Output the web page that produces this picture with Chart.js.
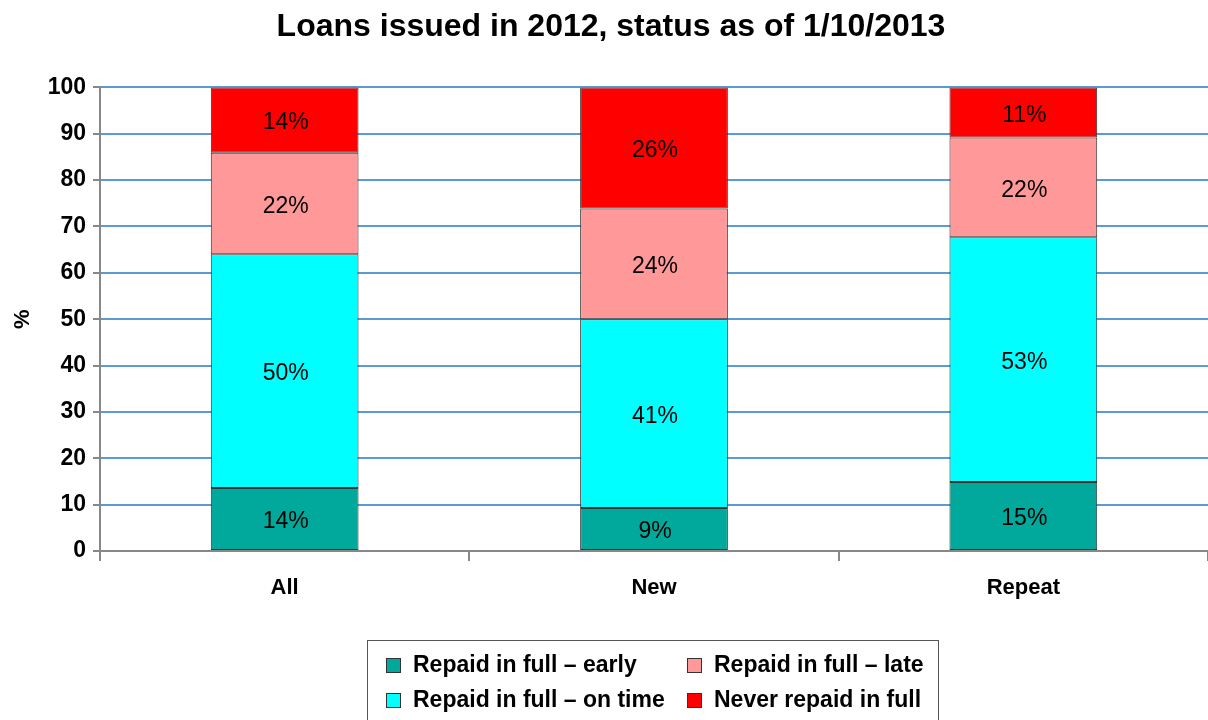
<!DOCTYPE html>
<html><head><meta charset="utf-8">
<script src="https://cdn.jsdelivr.net/npm/chart.js@4/dist/chart.umd.min.js"></script>
<style>html,body{margin:0;padding:0;background:#fff;}#wrap{width:1208px;height:720px;position:relative;}</style>
</head><body><div id="wrap"><canvas id="c" width="1208" height="720"></canvas></div>
<script>
const categories = ['All', 'New', 'Repeat'];
const seriesNames = ['Repaid in full \u2013 early', 'Repaid in full \u2013 on time', 'Repaid in full \u2013 late', 'Never repaid in full'];
const repaidEarly = [13.6, 9.3, 14.9];
const repaidOnTime = [50.4, 40.7, 52.8];
const repaidLate = [21.9, 23.9, 21.5];
const neverRepaid = [14.1, 26.1, 10.8];
const seriesColors = ['#00a99b', '#00ffff', '#ff9999', '#ff0000'];
const yMin = 0, yMax = 100, yStep = 10;

const FONT = '"Liberation Sans", Arial, sans-serif';

const dataLabels = {
  id: 'dataLabels',
  afterDatasetsDraw(chart) {
    const ctx = chart.ctx;
    ctx.save();
    ctx.font = '23px ' + FONT;
    ctx.fillStyle = '#000';
    ctx.textAlign = 'center';
    ctx.textBaseline = 'middle';
    chart.data.datasets.forEach((ds, i) => {
      const meta = chart.getDatasetMeta(i);
      meta.data.forEach((el, j) => {
        const p = el.getProps(['x', 'y', 'base'], true);
        ctx.fillText(Math.round(ds.data[j]) + '%', p.x + 1, (p.y + p.base) / 2 + 3);
      });
    });
    ctx.restore();
  }
};

const boxLegend = {
  id: 'boxLegend',
  afterDraw(chart) {
    const ctx = chart.ctx;
    ctx.save();
    ctx.strokeStyle = '#555';
    ctx.lineWidth = 1;
    ctx.strokeRect(367.5, 640.5, 571, 100);
    ctx.font = 'bold 23px ' + FONT;
    ctx.textBaseline = 'middle';
    ctx.textAlign = 'left';
    const colX = [386, 687];
    const rowY = [665, 700];
    chart.data.datasets.forEach((ds, i) => {
      const cx = colX[Math.floor(i / 2)];
      const cy = rowY[i % 2];
      ctx.fillStyle = ds.backgroundColor;
      ctx.fillRect(cx, cy - 7, 14, 14);
      ctx.strokeStyle = '#333';
      ctx.strokeRect(cx + 0.5, cy - 6.5, 14, 14);
      ctx.fillStyle = '#000';
      ctx.fillText(ds.label, cx + 27, cy + 1);
    });
    ctx.restore();
  }
};

const datasets = [repaidEarly, repaidOnTime, repaidLate, neverRepaid].map((arr, i) => ({
  label: seriesNames[i],
  data: arr,
  backgroundColor: seriesColors[i],
  borderColor: '#333',
  borderWidth: 1,
  borderSkipped: false,
  categoryPercentage: 1.0,
  barPercentage: 0.4
}));

new Chart(document.getElementById('c'), {
  type: 'bar',
  data: { labels: categories, datasets },
  plugins: [dataLabels, boxLegend],
  options: {
    responsive: false,
    devicePixelRatio: 1,
    animation: false,
    layout: { padding: { top: 0, left: 14, right: 0, bottom: 0 } },
    plugins: {
      legend: { display: false },
      tooltip: { enabled: false },
      title: {
        display: true,
        text: 'Loans issued in 2012, status as of 1/10/2013',
        color: '#000',
        font: { family: FONT, size: 32, weight: 'bold' },
        padding: { top: 8, bottom: 41 }
      }
    },
    scales: {
      x: {
        stacked: true,
        afterFit: (s) => { s.height = 169; },
        grid: { display: true, offset: true, drawOnChartArea: false, drawTicks: true, tickLength: 10, color: '#888', lineWidth: 2 },
        border: { display: true, color: '#888', width: 2 },
        ticks: { color: '#000', font: { family: FONT, size: 22, weight: 'bold' }, padding: 14 }
      },
      y: {
        stacked: true,
        min: yMin, max: yMax,
        afterFit: (s) => { s.width = 86; },
        ticks: { stepSize: yStep, color: '#000', font: { family: FONT, size: 23, weight: 'bold' }, padding: 7 },
        grid: {
          color: (c) => (c.tick && c.tick.value === 0) ? '#888' : '#5b9bd5',
          lineWidth: 2,
          tickLength: 7,
          tickColor: '#888'
        },
        border: { display: true, color: '#888', width: 2 },
        title: { display: true, text: '%', color: '#000', font: { family: FONT, size: 22, weight: 'bold' }, padding: { top: -4, bottom: 0 } }
      }
    }
  }
});
</script></body></html>
